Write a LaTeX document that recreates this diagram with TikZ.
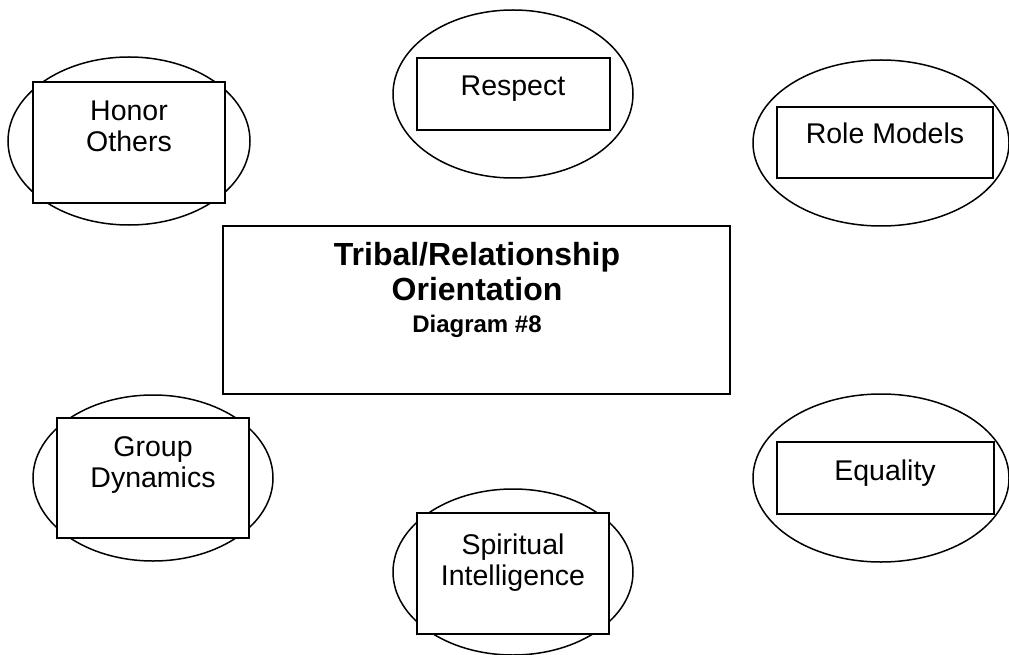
\documentclass[tikz,border=0pt]{standalone}
\usepackage{fontspec}
\setmainfont{Liberation Sans}
\usetikzlibrary{shapes.geometric}
\begin{document}
\begin{tikzpicture}[x=1pt,y=-1pt,
  oval/.style={draw,ellipse,line width=1.5pt,inner sep=0pt},
  box/.style={draw,rectangle,fill=white,line width=1.5pt,inner sep=0pt},
  lbl/.style={anchor=base,inner sep=0pt,font=\fontsize{28.5}{31}\selectfont},
  ttl/.style={anchor=base,inner sep=0pt,font=\bfseries\fontsize{32}{35}\selectfont},
  sub/.style={anchor=base,inner sep=0pt,font=\bfseries\fontsize{24}{28}\selectfont}]
\useasboundingbox (0,0) rectangle (1009,655);
% ellipses
\node[oval,minimum width=242pt,minimum height=168pt] (e1) at (129,141) {};
\node[oval,minimum width=240pt,minimum height=168pt] (e2) at (513,94) {};
\node[oval,minimum width=256pt,minimum height=166pt] (e3) at (881,143) {};
\node[oval,minimum width=240pt,minimum height=166pt] (e4) at (153,478) {};
\node[oval,minimum width=240pt,minimum height=166pt] (e5) at (513,572) {};
\node[oval,minimum width=256pt,minimum height=168pt] (e6) at (881,478) {};
% boxes
\node[box,minimum width=192pt,minimum height=121pt] (b1) at (129,142.5) {};
\node[box,minimum width=193pt,minimum height=72pt] (b2) at (513.5,94) {};
\node[box,minimum width=216pt,minimum height=71pt] (b3) at (885,142.5) {};
\node[box,minimum width=192pt,minimum height=120pt] (b4) at (153,478) {};
\node[box,minimum width=192pt,minimum height=121pt] (b5) at (513,573.5) {};
\node[box,minimum width=217pt,minimum height=72pt] (b6) at (885.5,478) {};
\node[box,minimum width=507pt,minimum height=168pt] (c) at (476.5,310) {};
% labels
\node[lbl] (l1a) at (129,121) {Honor};
\node[lbl] (l1b) at (129,152) {Others};
\node[lbl] (l2) at (513,96) {Respect};
\node[lbl] (l3) at (885,144) {Role Models};
\node[lbl] (l4a) at (153,456) {Group};
\node[lbl] (l4b) at (153,487) {Dynamics};
\node[lbl] (l5a) at (513,554) {Spiritual};
\node[lbl] (l5b) at (513,585) {Intelligence};
\node[lbl] (l6) at (885,480) {Equality};
\node[ttl] (t1) at (477,265) {Tribal/Relationship};
\node[ttl] (t2) at (477,300) {Orientation};
\node[sub] (t3) at (477,332) {Diagram \#8};
\end{tikzpicture}
\end{document}
